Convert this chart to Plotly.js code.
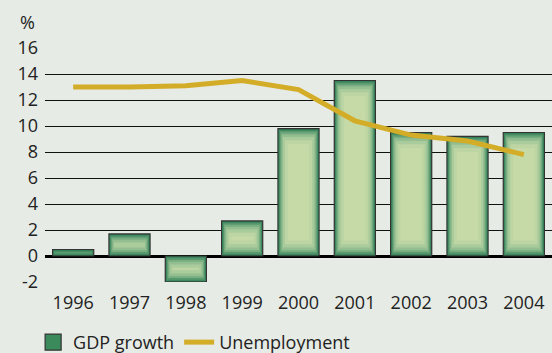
<!DOCTYPE html>
<html>
<head>
<meta charset="utf-8">
<script src="https://cdn.plot.ly/plotly-3.0.1.min.js"></script>
<style>html,body{margin:0;padding:0;background:#e6ebe5;}</style>
</head>
<body>
<div id="chart" style="width:552px;height:353px;"></div>
<script>
const years = ['1996','1997','1998','1999','2000','2001','2002','2003','2004'];
const gdpGrowth = [0.5, 1.7, -2.0, 2.7, 9.8, 13.5, 9.5, 9.2, 9.5];
const unemployment = [13.0, 13.0, 13.1, 13.5, 12.8, 10.4, 9.3, 8.85, 7.8];
const yTicks = [-2, 0, 2, 4, 6, 8, 10, 12, 14, 16];

// Shading layers to imitate the glowing bar fill (style only)
const layers = [
  {w: 0.70, inset: 0.08, color: '#3f8860'},
  {w: 0.67, inset: 0.18, color: '#5a9a6f'},
  {w: 0.64, inset: 0.3, color: '#76ac80'},
  {w: 0.60, inset: 0.45, color: '#93be90'},
  {w: 0.55, inset: 0.65, color: '#aacb9c'},
  {w: 0.48, inset: 0.9, color: '#bcd5a3'},
  {w: 0.38, inset: 1.2, color: '#c6daa8'}
];

const traces = [{
  type: 'bar', x: years, y: gdpGrowth, name: 'GDP growth',
  width: 0.73, showlegend: false,
  marker: {color: '#2f7a53', line: {color: '#333', width: 1.2}},
  hoverinfo: 'skip'
}];
layers.forEach(L => {
  traces.push({
    type: 'bar', x: years,
    y: gdpGrowth.map(v => Math.sign(v) * Math.max(Math.abs(v) - 2 * L.inset, 0)),
    base: gdpGrowth.map(v => Math.sign(v) * L.inset),
    width: L.w, showlegend: false, hoverinfo: 'skip',
    marker: {color: L.color, line: {width: 0}}
  });
});
// legend-only entry giving a larger square swatch for the bars
traces.push({
  type: 'scatter', mode: 'markers', x: [null], y: [null], name: 'GDP growth',
  marker: {symbol: 'square', size: 16, color: '#3a8a5c', line: {color: '#333', width: 1.2}},
  hoverinfo: 'skip'
});
traces.push({
  type: 'scatter', mode: 'lines', x: years, y: unemployment, name: 'Unemployment',
  line: {color: '#d3ac28', width: 5}
});

const layout = {
  width: 552, height: 353,
  paper_bgcolor: '#e6ebe5', plot_bgcolor: '#e6ebe5',
  margin: {l: 45, r: 0, t: 48, b: 71},
  barmode: 'overlay',
  font: {family: 'Open Sans, sans-serif', size: 18, color: '#222'},
  showlegend: true,
  legend: {orientation: 'h', xref: 'container', yref: 'container', x: 0.06, y: 0.03,
           xanchor: 'left', yanchor: 'middle', bgcolor: 'rgba(0,0,0,0)',
           font: {size: 18}, itemwidth: 30, traceorder: 'normal'},
  xaxis: {type: 'category', range: [-0.5, 8.5], showgrid: false, zeroline: false,
          ticks: '', showline: false, fixedrange: true, ticklabelstandoff: 8},
  yaxis: {range: [-2, 16], tickvals: yTicks, ticktext: yTicks.map(String),
          showgrid: true, gridcolor: '#111', gridwidth: 1,
          zeroline: true, zerolinecolor: '#000', zerolinewidth: 3,
          ticks: '', ticklabelstandoff: 6, showline: false, fixedrange: true},
  annotations: [{text: '%', xref: 'paper', yref: 'paper', x: -0.034, y: 1.111,
                 xanchor: 'center', yanchor: 'middle', showarrow: false,
                 font: {size: 18, color: '#222'}}]
};

Plotly.newPlot('chart', traces, layout, {displayModeBar: false, staticPlot: true});
</script>
</body>
</html>
